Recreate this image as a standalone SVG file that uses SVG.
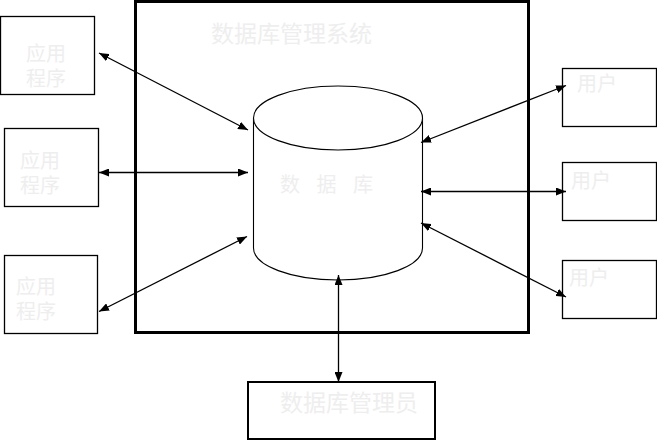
<svg xmlns="http://www.w3.org/2000/svg" width="657" height="441" viewBox="0 0 657 441">
<style>
.box{fill:#fff;stroke:#000;stroke-width:1.3}
.lbl{font-family:"Liberation Sans","Noto Sans CJK SC",sans-serif;fill:#eeeeee;font-size:20px}
.conn line{stroke:#000;stroke-width:1.3;marker-start:url(#ah);marker-end:url(#ah)}
</style>
<defs>
<marker id="ah" viewBox="0 0 10 8" refX="10" refY="4" markerWidth="10" markerHeight="8" markerUnits="userSpaceOnUse" orient="auto-start-reverse">
<path d="M0,0 L10,4 L0,8 Z" fill="#000"/>
</marker>
</defs>
<rect width="657" height="441" fill="#fff"/>
<g id="dbms">
<rect x="135.5" y="1.5" width="393" height="331" fill="none" stroke="#000" stroke-width="3"/>
<text class="lbl" x="211" y="42" style="font-size:23px">数据库管理系统</text>
</g>
<g id="database">
<path d="M253.5,118 L253.5,248 A84.5,32 0 0 0 422.5,248 L422.5,118" fill="#fff" stroke="#000" stroke-width="1.1"/>
<ellipse cx="338" cy="118" rx="84.5" ry="32" fill="#fff" stroke="#000" stroke-width="1.1"/>
<text class="lbl" x="280" y="192" style="letter-spacing:5.5px" xml:space="preserve">数 据 库</text>
</g>
<g id="app1">
<rect class="box" x="0.5" y="16.5" width="94" height="78"/>
<text class="lbl" x="26" y="61">应用</text>
<text class="lbl" x="26" y="86">程序</text>
</g>
<g id="app2">
<rect class="box" x="4.5" y="128.5" width="94" height="78"/>
<text class="lbl" x="20" y="168">应用</text>
<text class="lbl" x="20" y="193">程序</text>
</g>
<g id="app3">
<rect class="box" x="4.5" y="255.5" width="93" height="78"/>
<text class="lbl" x="16" y="294">应用</text>
<text class="lbl" x="16" y="319">程序</text>
</g>
<g id="user1">
<rect class="box" x="562.5" y="68.5" width="94" height="58"/>
<text class="lbl" x="577" y="91">用户</text>
</g>
<g id="user2">
<rect class="box" x="562.5" y="162.5" width="94" height="58"/>
<text class="lbl" x="571" y="188">用户</text>
</g>
<g id="user3">
<rect class="box" x="562.5" y="260.5" width="94" height="58"/>
<text class="lbl" x="569" y="285">用户</text>
</g>
<g id="admin">
<rect x="248" y="382" width="187" height="57" fill="#fff" stroke="#000" stroke-width="2"/>
<text class="lbl" x="280" y="411" style="font-size:23px">数据库管理员</text>
</g>
<g class="conn" id="connectors">
<line x1="99" y1="53" x2="248" y2="130"/>
<line x1="99" y1="172.5" x2="248" y2="172.5"/>
<line x1="99" y1="311.5" x2="247" y2="236.5"/>
<line x1="421" y1="142.5" x2="566" y2="85.5"/>
<line x1="421" y1="191.5" x2="566" y2="191.5"/>
<line x1="421" y1="223" x2="566" y2="297"/>
<line x1="338.5" y1="275" x2="338.5" y2="382"/>
</g>
</svg>
